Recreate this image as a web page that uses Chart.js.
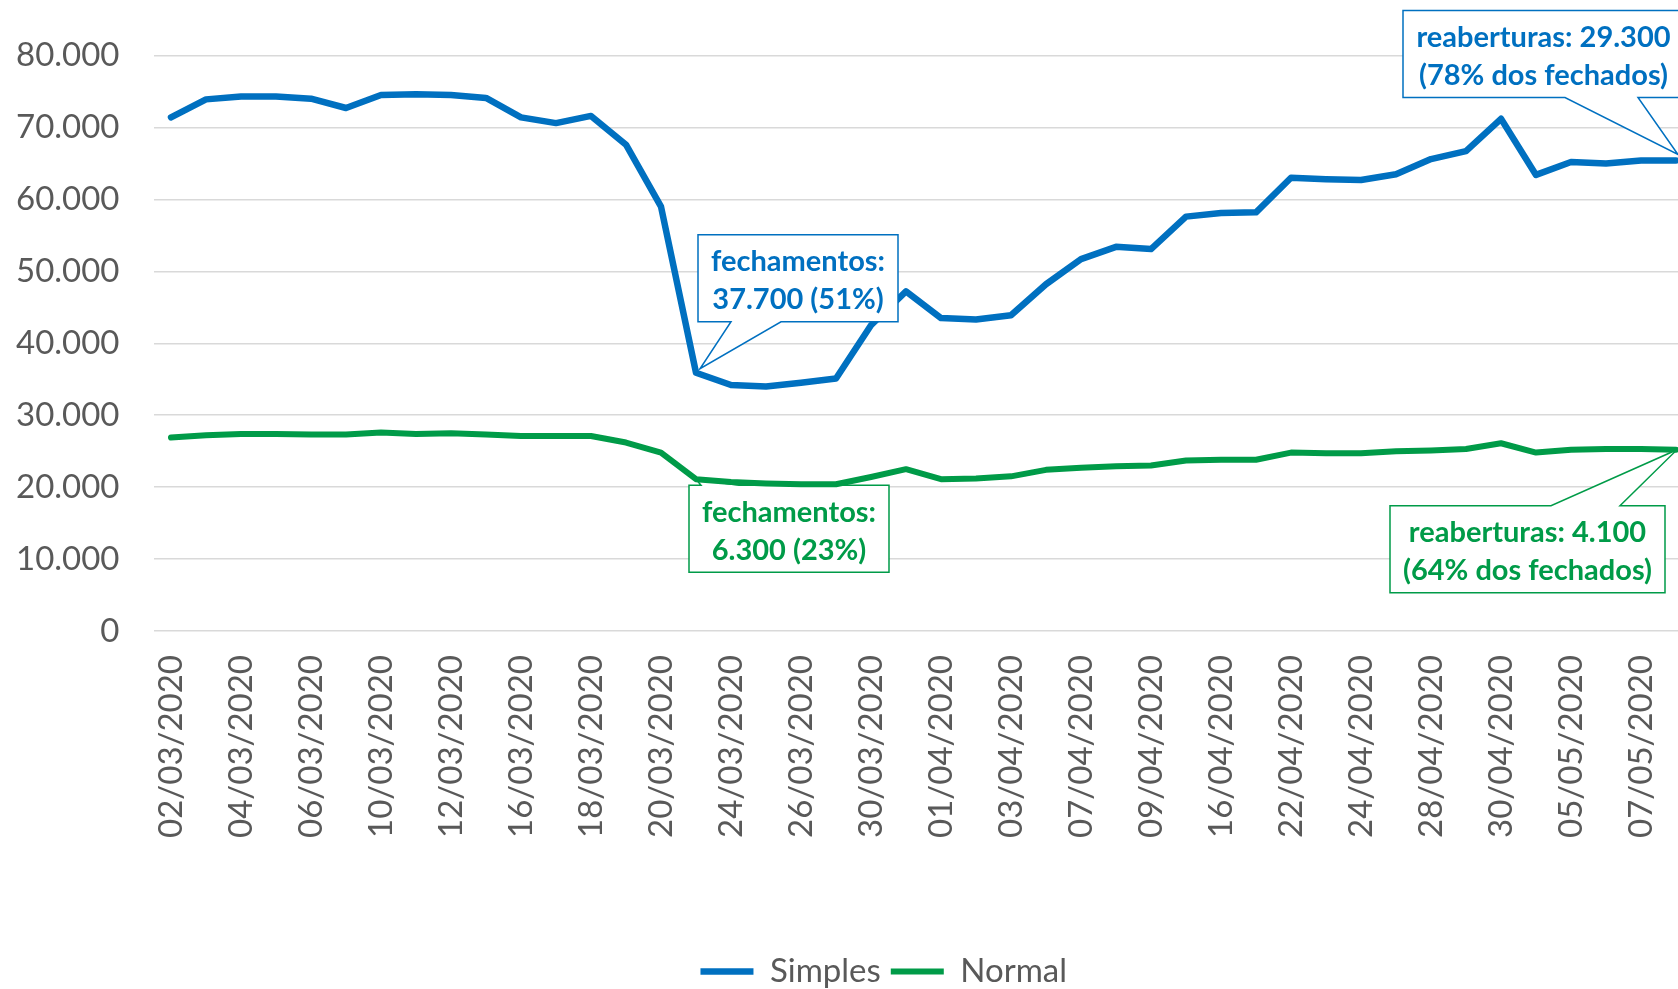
<!DOCTYPE html>
<html>
<head>
<meta charset="utf-8">
<script src="https://cdn.jsdelivr.net/npm/chart.js@4.4.1/dist/chart.umd.min.js"></script>
<style>
  html, body { margin: 0; padding: 0; background: #ffffff; overflow: hidden; }
  #wrap { width: 1678px; height: 989px; overflow: hidden; position: relative; background: #ffffff; }
  canvas { display: block; }
</style>
</head>
<body>
<div id="wrap"><canvas id="chart" width="1768" height="998"></canvas></div>
<script>
// ---------- data ----------
const categories = [
  '02/03/2020','03/03/2020','04/03/2020','05/03/2020','06/03/2020','09/03/2020','10/03/2020','11/03/2020',
  '12/03/2020','13/03/2020','16/03/2020','17/03/2020','18/03/2020','19/03/2020','20/03/2020','23/03/2020',
  '24/03/2020','25/03/2020','26/03/2020','27/03/2020','30/03/2020','31/03/2020','01/04/2020','02/04/2020',
  '03/04/2020','06/04/2020','07/04/2020','08/04/2020','09/04/2020','14/04/2020','16/04/2020','20/04/2020',
  '22/04/2020','23/04/2020','24/04/2020','27/04/2020','28/04/2020','29/04/2020','30/04/2020','04/05/2020',
  '05/05/2020','06/05/2020','07/05/2020','08/05/2020'
];
const simples = [
  71400, 73900, 74300, 74300, 74000, 72700, 74500, 74600, 74500, 74100,
  71400, 70600, 71600, 67600, 59000, 35900, 34200, 34000, 34500, 35100,
  42500, 47200, 43500, 43300, 43900, 48200, 51700, 53400, 53100, 57600,
  58100, 58200, 63000, 62800, 62700, 63500, 65600, 66700, 71200, 63400,
  65200, 65000, 65400, 65400
];
const normal = [
  26900, 27200, 27400, 27400, 27300, 27300, 27600, 27400, 27500, 27300,
  27100, 27100, 27100, 26200, 24800, 21100, 20700, 20500, 20400, 20400,
  21400, 22500, 21100, 21200, 21500, 22400, 22700, 22900, 23000, 23700,
  23800, 23800, 24800, 24700, 24700, 25000, 25100, 25300, 26100, 24800,
  25200, 25300, 25300, 25200
];
const seriesNames = ['Simples', 'Normal'];
const yMin = 0, yMax = 80000, yStep = 10000;

// callout texts, anchored to data points (dataset index, category index)
const calloutTexts = [
  ['fechamentos:', '37.700 (51%)'],
  ['reaberturas: 29.300', '(78% dos fechados)'],
  ['fechamentos:', '6.300 (23%)'],
  ['reaberturas: 4.100', '(64% dos fechados)']
];
const calloutAnchors = [[0, 15], [0, 43], [1, 15], [1, 43]];

// ---------- styles ----------
const BLUE = '#0070C0';
const GREEN = '#009B48';
const AXIS_TEXT = '#595959';
const FONT = 'Lato';

// callout layout (offsets from anchor point, in px)
const calloutLayout = [
  { color: BLUE,  layer: 'front', dx: 2,    dy: -138, w: 200, h: 87, edge: 'bottom', b1: 33,  b2: 83,  tdx: 4, tdy: -4 },
  { color: BLUE,  layer: 'front', dx: -273, dy: -150, w: 281, h: 87, edge: 'bottom', b1: 162, b2: 235, tdx: 2, tdy: -6 },
  { color: GREEN, layer: 'back',  dx: -7,   dy: 6,    w: 200, h: 87, edge: 'top',    b1: 12,  b2: 50,  tdx: 0, tdy: 0 },
  { color: GREEN, layer: 'front', dx: -286, dy: 56,   w: 275, h: 87, edge: 'top',    b1: 161, b2: 230, tdx: 1, tdy: 0 }
];

function fmtThousands(v) {
  return String(v).replace(/\B(?=(\d{3})+(?!\d))/g, '.');
}

function drawCallouts(chart, layer) {
  const ctx = chart.ctx;
  const xs = chart.scales.x, ys = chart.scales.y;
  calloutAnchors.forEach((a, k) => {
    const L = calloutLayout[k];
    if (L.layer !== layer) return;
    const ds = chart.data.datasets[a[0]].data;
    const px = xs.getPixelForValue(a[1]);
    const py = ys.getPixelForValue(ds[a[1]]);
    const left = px + L.dx, top = py + L.dy, right = left + L.w, bottom = top + L.h;
    const tx = px + L.tdx, ty = py + L.tdy;
    ctx.save();
    ctx.beginPath();
    if (L.edge === 'bottom') {
      ctx.moveTo(left, top);
      ctx.lineTo(right, top);
      ctx.lineTo(right, bottom);
      ctx.lineTo(left + L.b2, bottom);
      ctx.lineTo(tx, ty);
      ctx.lineTo(left + L.b1, bottom);
      ctx.lineTo(left, bottom);
    } else {
      ctx.moveTo(left, top);
      ctx.lineTo(left + L.b1, top);
      ctx.lineTo(tx, ty);
      ctx.lineTo(left + L.b2, top);
      ctx.lineTo(right, top);
      ctx.lineTo(right, bottom);
      ctx.lineTo(left, bottom);
    }
    ctx.closePath();
    ctx.fillStyle = '#ffffff';
    ctx.fill();
    ctx.lineWidth = 1.5;
    ctx.lineJoin = 'miter';
    ctx.strokeStyle = L.color;
    ctx.stroke();
    ctx.fillStyle = L.color;
    ctx.font = 'bold 29px ' + FONT;
    ctx.textAlign = 'center';
    ctx.textBaseline = 'middle';
    const cx = (left + right) / 2;
    const lines = calloutTexts[k];
    ctx.fillText(lines[0], cx, top + 27);
    ctx.fillText(lines[1], cx, top + 65);
    ctx.restore();
  });
}

const calloutPlugin = {
  id: 'callouts',
  beforeDatasetsDraw(chart) { drawCallouts(chart, 'back'); },
  afterDatasetsDraw(chart) { drawCallouts(chart, 'front'); }
};

// centre the legend under the whole (uncropped) chart width, as in the reference
const legendShiftPlugin = {
  id: 'legendShift',
  afterLayout(chart) {
    const lg = chart.legend;
    if (lg) { lg.left += 29; lg.right += 29; }
  }
};

const ctx = document.getElementById('chart').getContext('2d');
new Chart(ctx, {
  type: 'line',
  data: {
    labels: categories,
    datasets: [
      {
        label: seriesNames[0], data: simples, borderColor: BLUE, backgroundColor: BLUE,
        borderWidth: 6.5, pointRadius: 0, tension: 0, borderCapStyle: 'round', borderJoinStyle: 'round', fill: false
      },
      {
        label: seriesNames[1], data: normal, borderColor: GREEN, backgroundColor: GREEN,
        borderWidth: 6, pointRadius: 0, tension: 0, borderCapStyle: 'round', borderJoinStyle: 'round', fill: false
      }
    ]
  },
  options: {
    responsive: false,
    animation: false,
    devicePixelRatio: 1,
    layout: { padding: { left: 16, right: 74.5, top: 55.5, bottom: 0 } },
    plugins: {
      legend: {
        display: true,
        position: 'bottom',
        labels: {
          usePointStyle: true,
          pointStyle: 'line',
          pointStyleWidth: 53,
          color: AXIS_TEXT,
          font: { family: FONT, size: 33 },
          padding: 10
        }
      },
      tooltip: { enabled: false },
      title: { display: false }
    },
    scales: {
      x: {
        type: 'category',
        offset: true,
        grid: { display: false, drawTicks: false },
        border: { display: false },
        ticks: {
          autoSkip: false,
          minRotation: 90,
          maxRotation: 90,
          padding: 24,
          color: AXIS_TEXT,
          font: { family: FONT, size: 33 },
          callback: function (val, idx) { return idx % 2 === 0 ? categories[idx] : ''; }
        },
        afterFit: function (s) { s.height = 314; }
      },
      y: {
        min: yMin,
        max: yMax,
        grid: { color: '#d9d9d9', lineWidth: 1.5, drawTicks: false },
        border: { display: false },
        ticks: {
          stepSize: yStep,
          padding: 34,
          color: AXIS_TEXT,
          font: { family: FONT, size: 33 },
          callback: function (v) { return fmtThousands(v); }
        },
        afterFit: function (s) { s.width = 137.5; }
      }
    }
  },
  plugins: [calloutPlugin, legendShiftPlugin]
});
</script>
</body>
</html>
